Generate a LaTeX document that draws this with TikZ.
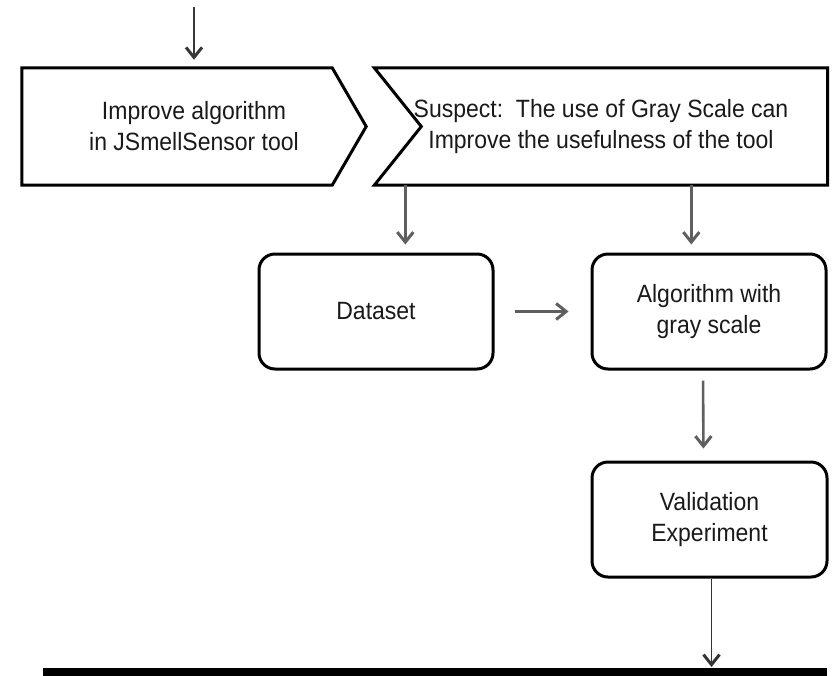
\documentclass[tikz,border=0pt]{standalone}
\usepackage{fontspec}
\setmainfont[FakeStretch=0.92]{Liberation Sans}
\usetikzlibrary{arrows.meta}

\begin{document}
\begin{tikzpicture}[x=1pt,y={(0pt,-1pt)}]

	\definecolor{linegray}{RGB}{95,95,95}
	\definecolor{textgray}{RGB}{25,25,25}

	\useasboundingbox (0,0) rectangle (837,675);

	\tikzstyle{flow} = [draw=linegray, line width=2.6pt, -{Straight Barb[length=10pt,width=16pt,line width=3pt]}]
	\tikzset{label/.style = {inner sep=0pt, align=center, text=textgray, font=\fontsize{25}{31}\selectfont}}
	\tikzset{chev/.style = {label, minimum height=117pt}}
	\tikzset{box/.style = {label, draw=black, line width=3pt, rounded corners=16pt, minimum width=234pt, minimum height=115pt}}

	% the two chevrons
	\node[chev, minimum width=344pt] (improve) at (194,126.5) {Improve algorithm\\in JSmellSensor tool};
	\node[chev, minimum width=453pt] (suspect) at (601,126.5) {Suspect:\ \ The use of Gray Scale can\\Improve the usefulness of the tool};
	\draw[line width=3pt, line join=miter] (improve.north west) -- ([xshift=-34pt]improve.north east) -- (improve.east)
		-- ([xshift=-34pt]improve.south east) -- (improve.south west) -- cycle;
	\draw[line width=3pt, line join=miter] (suspect.north west) -- (suspect.north east) -- (suspect.south east)
		-- (suspect.south west) -- ([xshift=47pt]suspect.west) -- cycle;

	\node[box] (dataset) at (376,311.5) {Dataset};
	\node[box] (algo) at (709,311.5) {Algorithm with\\gray scale};
	\node[box, minimum width=235pt] (valid) at (709.5,519.5) {Validation\\Experiment};
	\node[fill=black, inner sep=0pt, minimum width=784pt, minimum height=14pt, anchor=north west] (bar) at (43,668) {};

	\coordinate (start) at (194,7);
	\draw[flow, draw=black!78, shorten >=8pt] (start) -- (start |- improve.north);
	\draw[flow, shorten >=8pt] ([xshift=31pt]suspect.south west) -- ([xshift=31pt]suspect.south west |- dataset.north);
	\draw[flow, shorten >=8pt] ([xshift=317pt]suspect.south west) -- ([xshift=317pt]suspect.south west |- algo.north);
	\draw[flow, shorten <=20pt, shorten >=22pt] (dataset) -- (algo);
	\draw[flow, shorten <=10pt, shorten >=12pt] ([xshift=-6pt]algo.south) -- ([xshift=-6pt]valid.north);
	\draw[flow, draw=black!80, line width=1.8pt, shorten >=1pt] ([xshift=2pt]valid.south) -- ([xshift=2pt]valid.south |- bar.north);

\end{tikzpicture}
\end{document}
